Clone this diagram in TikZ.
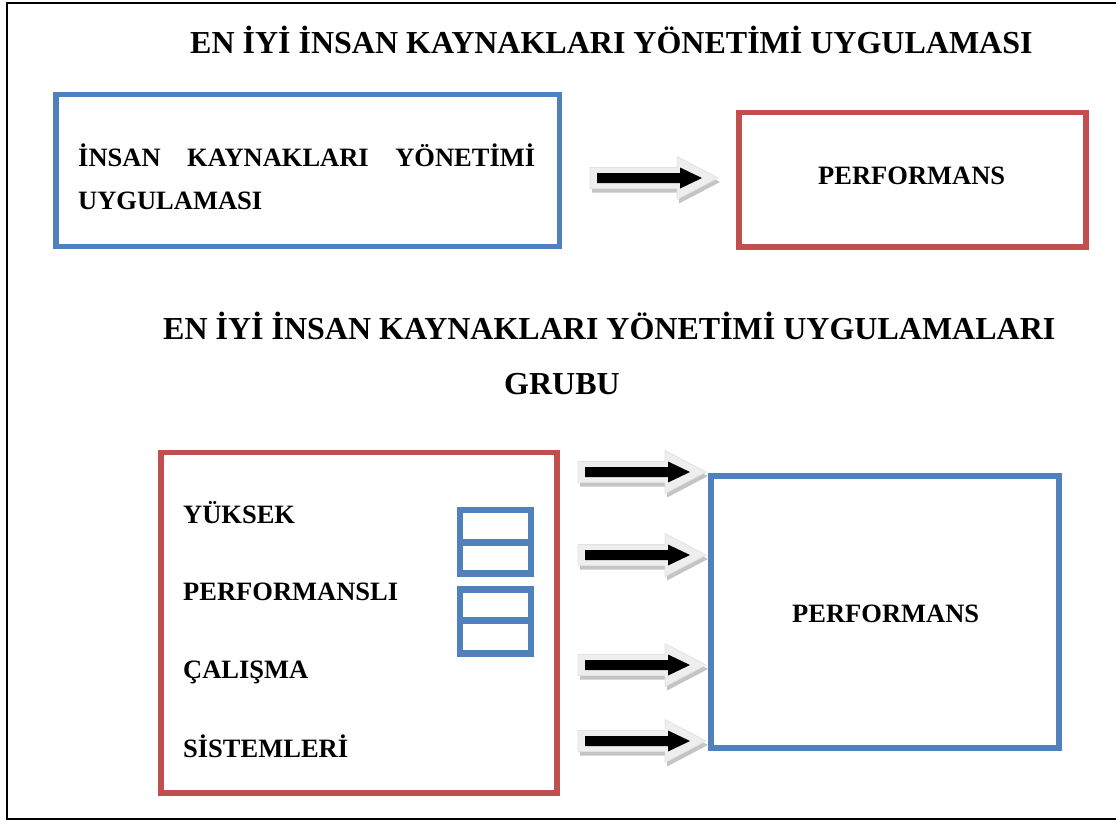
\documentclass[tikz,border=0pt]{standalone}
\usepackage{fontspec}
\setmainfont{Liberation Serif}
\definecolor{boxblue}{HTML}{4F81BD}
\definecolor{boxred}{HTML}{C0504D}
\definecolor{arrowfill}{HTML}{EEEEEE}
\definecolor{arrowedge}{HTML}{E2E2E2}
\definecolor{arrowshadow}{HTML}{C4C4C4}
\tikzset{
  bluebox/.style={draw=boxblue, line width=5.5, inner sep=0pt},
  redbox/.style={draw=boxred, line width=5.5, inner sep=0pt},
  smallbox/.style={draw=boxblue, line width=6.5, inner sep=0pt, minimum width=71},
  headtxt/.style={inner sep=0pt, font=\bfseries\fontsize{32}{38}\selectfont},
  bodytxt/.style={inner sep=0pt, font=\bfseries\fontsize{26.5}{32}\selectfont},
  blockarrow/.pic={
    \fill[arrowshadow, shift={(2,4)}] (0,-10.5) -- (87,-10.5) -- (87,-21.5) -- (128,0) -- (87,21.5) -- (87,10.5) -- (0,10.5) -- cycle;
    \filldraw[fill=arrowfill, draw=arrowedge, line width=0.8] (0,-10.5) -- (87,-10.5) -- (87,-21.5) -- (128,0) -- (87,21.5) -- (87,10.5) -- (0,10.5) -- cycle;
    \fill[black] (7,-5) -- (90,-5) -- (90,-10.5) -- (112,0) -- (90,10.5) -- (90,5) -- (7,5) -- cycle;
  }
}
\begin{document}
\begin{tikzpicture}[x=1pt,y=-1pt]
\useasboundingbox (0,0) rectangle (1116,823);
\draw[line width=2] (1117,3) -- (7,3) -- (7,819) -- (1117,819);

% titles
\node[headtxt, anchor=base west] (t1) at (190,53) {EN İYİ İNSAN KAYNAKLARI YÖNETİMİ UYGULAMASI};
\node[headtxt, anchor=base west] (t2) at (163,339) {EN İYİ İNSAN KAYNAKLARI YÖNETİMİ UYGULAMALARI};
\node[headtxt, anchor=base] (t3) at (562,394) {GRUBU};

% top row
\node[bluebox, minimum width=503.5, minimum height=152] (b1) at (307.75,170.5) {};
\node[bodytxt, anchor=base west] (b1l1) at (78,166) {\hbox to 457pt{İNSAN\hfill KAYNAKLARI\hfill YÖNETİMİ}};
\node[bodytxt, anchor=base west] (b1l2) at (78,209) {UYGULAMASI};
\node[redbox, minimum width=347, minimum height=134.5] (r1) at (912.5,179.75) {};
\node[bodytxt, anchor=base west] (r1t) at (818,184) {PERFORMANS};
\coordinate (a0) at (590,178);
\pic at (a0) {blockarrow};

% bottom row
\node[redbox, minimum width=396, minimum height=340.5] (r2) at (359,622.75) {};
\node[bodytxt, anchor=base west] (r2a) at (183,523) {YÜKSEK};
\node[bodytxt, anchor=base west] (r2b) at (183,600) {PERFORMANSLI};
\node[bodytxt, anchor=base west] (r2c) at (183,678) {ÇALIŞMA};
\node[bodytxt, anchor=base west] (r2d) at (183,757) {SİSTEMLERİ};

\node[smallbox, minimum height=32.5] (s1a) at (495.5,526.25) {};
\node[smallbox, minimum height=31] (s1b) at (495.5,558) {};
\node[smallbox, minimum height=31] (s2a) at (495.5,605) {};
\node[smallbox, minimum height=33] (s2b) at (495.5,637) {};

\node[bluebox, minimum width=348, minimum height=272] (b2) at (885,612) {};
\node[bodytxt, anchor=base west] (b2t) at (792,622) {PERFORMANS};

\coordinate (a1) at (578,472);
\coordinate (a2) at (578,555);
\coordinate (a3) at (578,665);
\coordinate (a4) at (578,741);
\pic at (a1) {blockarrow};
\pic at (a2) {blockarrow};
\pic at (a3) {blockarrow};
\pic at (a4) {blockarrow};
\end{tikzpicture}
\end{document}
